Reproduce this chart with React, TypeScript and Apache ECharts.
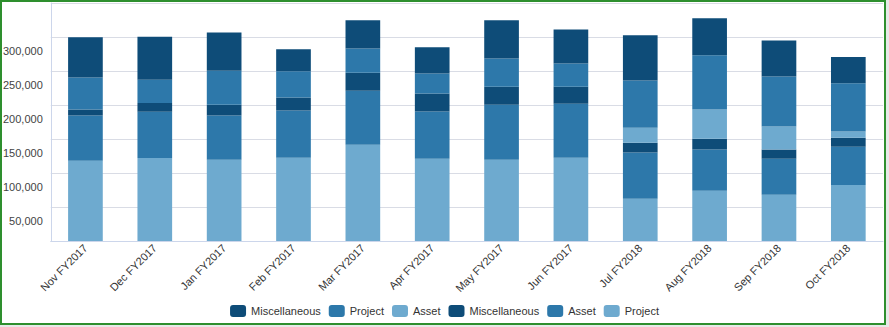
import React, { useEffect, useRef } from "react";
import * as echarts from "echarts";

const categories = [
  "Nov FY2017", "Dec FY2017", "Jan FY2017", "Feb FY2017", "Mar FY2017", "Apr FY2017",
  "May FY2017", "Jun FY2017", "Jul FY2018", "Aug FY2018", "Sep FY2018", "Oct FY2018",
];

// stacked bottom -> top
const lowerProject = [118000, 122000, 119500, 122500, 141500, 121000, 119500, 122500, 62000, 74000, 68000, 82500];
const lowerAsset = [66500, 68000, 65000, 69500, 79500, 69500, 81000, 79500, 68000, 60500, 53000, 56000];
const lowerMisc = [9000, 13000, 16000, 19000, 26500, 26500, 26500, 25000, 14500, 16000, 13500, 13500];
const upperAsset = [0, 0, 0, 0, 0, 0, 0, 0, 22000, 43000, 34000, 9000];
const upperProject = [47000, 34000, 50000, 38500, 35500, 29500, 41500, 34000, 69500, 79500, 73500, 71000];
const upperMisc = [59000, 63500, 56000, 32500, 41500, 38500, 56000, 50000, 66500, 54500, 53000, 38500];

const yMin = 0;
const yMax = 350000;
const yStep = 50000;

const DARK = "#0e4c78";
const MID = "#2d78aa";
const LIGHT = "#6eaacf";
const FONT = "'Liberation Sans', Arial, sans-serif";

export default function App() {
  const ref = useRef<HTMLDivElement>(null);

  useEffect(() => {
    if (!ref.current) return;
    const chart = echarts.init(ref.current, undefined, { renderer: "svg" });

    const mk = (id: string, data: number[], color: string) => ({
      name: id,
      type: "bar",
      stack: "total",
      data,
      barWidth: "50%",
      itemStyle: { color },
      emphasis: { disabled: true },
    });

    chart.setOption({
      animation: false,
      backgroundColor: "#e8e8e8",
      textStyle: { fontFamily: FONT },
      graphic: [
        {
          type: "rect",
          z: -100,
          silent: true,
          shape: { x: 1, y: 1, width: 884, height: 323 },
          style: { fill: "#ffffff", stroke: "#2e8f2e", lineWidth: 2 },
        },
      ],
      grid: { left: 50, right: 6, top: 3, bottom: 86, containLabel: false },
      legend: {
        bottom: 5,
        left: "center",
        itemWidth: 16,
        itemHeight: 12,
        itemGap: 8,
        icon: "roundRect",
        data: ["Miscellaneous|1", "Project|1", "Asset|1", "Miscellaneous|2", "Asset|2", "Project|2"],
        formatter: (n: string) => n.split("|")[0],
        textStyle: { fontSize: 11, color: "#333333", fontFamily: FONT },
      },
      xAxis: {
        type: "category",
        data: categories,
        axisLine: { show: true, lineStyle: { color: "#ccd6eb" } },
        axisTick: { show: false },
        axisLabel: { interval: 0, rotate: 45, fontSize: 11, color: "#333333", margin: 5, fontFamily: FONT },
      },
      yAxis: {
        type: "value",
        min: yMin,
        max: yMax,
        interval: yStep,
        axisLine: { show: true, lineStyle: { color: "#ccd6eb" } },
        axisTick: { show: false },
        splitLine: { lineStyle: { color: "#d9dce5" } },
        axisLabel: {
          showMinLabel: false,
          showMaxLabel: false,
          fontSize: 11,
          color: "#444444",
          margin: 8,
          fontFamily: FONT,
          verticalAlign: "middle",
          lineHeight: 28,
          formatter: (v: number) => "\n" + v.toLocaleString("en-US"),
        },
      },
      series: [
        mk("Project|2", lowerProject, LIGHT),
        mk("Asset|2", lowerAsset, MID),
        mk("Miscellaneous|2", lowerMisc, DARK),
        mk("Asset|1", upperAsset, LIGHT),
        mk("Project|1", upperProject, MID),
        mk("Miscellaneous|1", upperMisc, DARK),
      ],
    });

    return () => chart.dispose();
  }, []);

  return (
    <div
      ref={ref}
      style={{ position: "fixed", left: 0, top: 0, width: 889, height: 327 }}
    />
  );
}
